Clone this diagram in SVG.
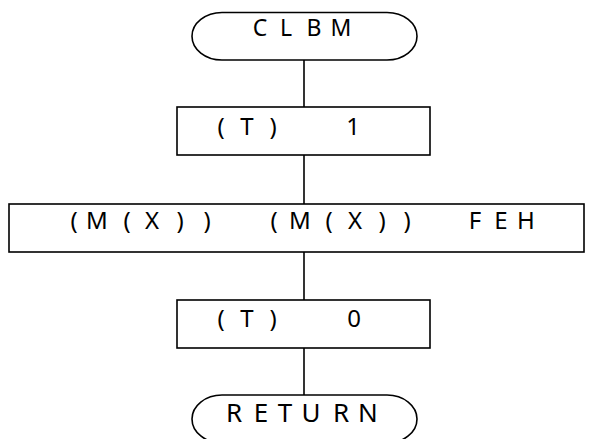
<svg xmlns="http://www.w3.org/2000/svg" width="595" height="439" viewBox="0 0 595 439">
<style>
.s{fill:#fff;stroke:#000;stroke-width:1.6}
.c{stroke:#000;stroke-width:1.6;fill:none}
text{font-family:"Noto Sans","DejaVu Sans",sans-serif;font-size:24px;fill:#000;text-anchor:middle}
</style>
<rect width="595" height="439" fill="#fff"/>
<g id="connectors">
<line class="c" x1="304" y1="60" x2="304" y2="107"/>
<line class="c" x1="304" y1="155" x2="304" y2="204"/>
<line class="c" x1="304" y1="252" x2="304" y2="300"/>
<line class="c" x1="304" y1="348" x2="304" y2="395"/>
</g>
<g id="start">
<rect class="s" x="192" y="12.5" width="225" height="47.5" rx="30" ry="23.75"/>
<text x="260 286 314 341" y="36" style="font-size:23px">CLBM</text>
</g>
<g id="set1">
<rect class="s" x="177" y="107" width="253" height="48"/>
<text x="221 247 273 353" y="135">(T)1</text>
</g>
<g id="op">
<rect class="s" x="9" y="204" width="575" height="48"/>
<text x="74 97 127 152 180 207 274 300 329 355 382 407 475 501 526" y="229">(M(X))(M(X))FEH</text>
</g>
<g id="set0">
<rect class="s" x="177" y="300" width="253" height="48"/>
<text x="221 247 273 354" y="327">(T)0</text>
</g>
<g id="end">
<rect class="s" x="192" y="395" width="225" height="48" rx="30" ry="24"/>
<text x="234 261 285 311 341 368" y="422" style="font-size:26px">RETURN</text>
</g>
</svg>
